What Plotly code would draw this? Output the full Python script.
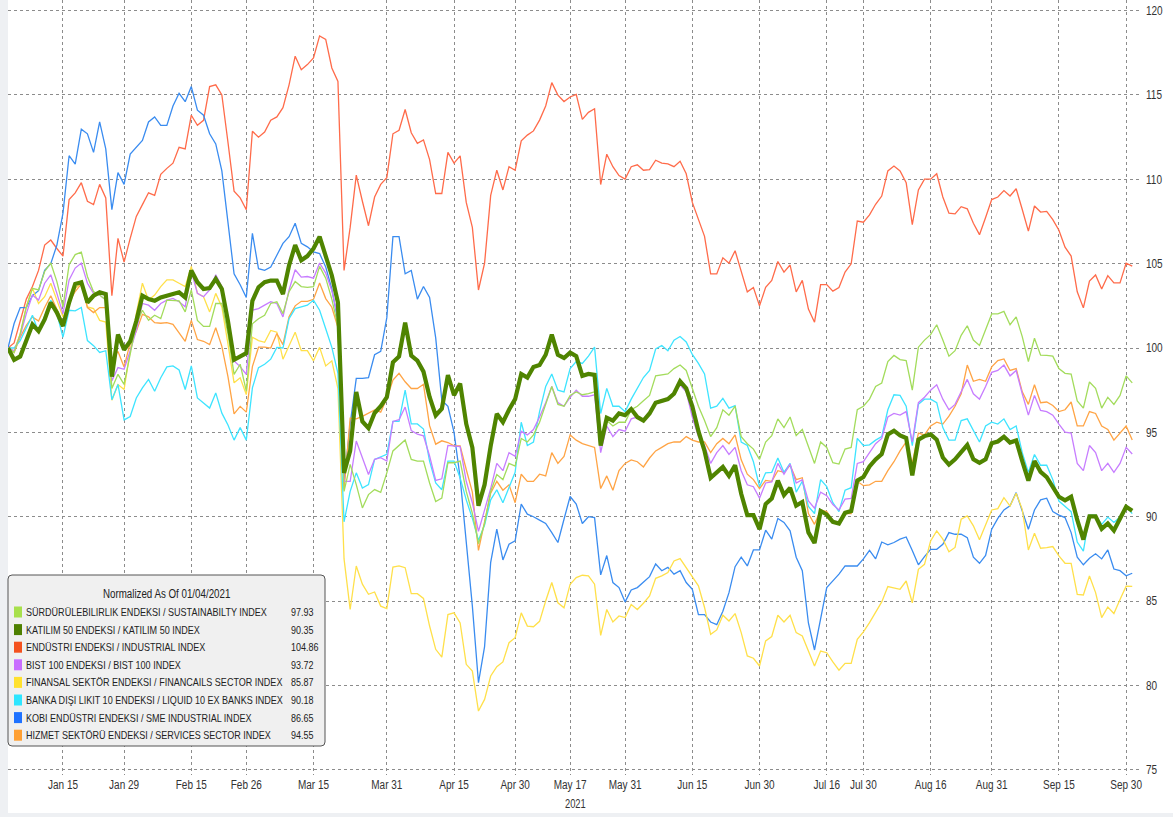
import pandas as pd
import plotly.graph_objects as go

# ---------------- data ----------------
holidays = ["2021-04-23", "2021-05-13", "2021-05-14", "2021-05-19", "2021-07-15",
            "2021-07-20", "2021-07-21", "2021-07-22", "2021-07-23", "2021-08-30"]
dates = [d.strftime("%Y-%m-%d") for d in pd.bdate_range("2021-01-04", "2021-10-01")
         if d.strftime("%Y-%m-%d") not in holidays]

tick_dates = ["2021-01-15", "2021-01-29", "2021-02-15", "2021-02-26", "2021-03-15", "2021-03-31",
              "2021-04-15", "2021-04-30", "2021-05-17", "2021-05-31", "2021-06-15", "2021-06-30",
              "2021-07-16", "2021-07-30", "2021-08-16", "2021-08-31", "2021-09-15", "2021-09-30"]
tick_labels = ["Jan 15", "Jan 29", "Feb 15", "Feb 26", "Mar 15", "Mar 31", "Apr 15", "Apr 30",
               "May 17", "May 31", "Jun 15", "Jun 30", "Jul 16", "Jul 30", "Aug 16", "Aug 31",
               "Sep 15", "Sep 30"]
y_ticks = [75, 80, 85, 90, 95, 100, 105, 110, 115, 120]

surdurulebilirlik = (
    [100.0, 99.74, 100.84, 102.44, 103.54, 103.44, 104.54, 105.04, 103.94, 102.44, 104.94, 105.54, 105.68, 104.24, 103.34, 103.14, 102.84]
    + [97.6, 98.44, 97.84, 99.64, 101.44, 102.24, 101.64, 101.94, 101.74, 102.84, 102.84, 102.8, 102.14]
    + [103.44, 101.64, 101.28, 101.28, 102.64, 102.64, 100.84, 98.44, 99.04, 97.44]
    + [101.44, 101.74, 101.94, 102.64, 102.74, 102.04, 103.34, 103.94, 103.64, 103.6, 103.64, 104.84, 104.14, 102.9, 101.3]
    + [91.5, 93.1, 91.9, 90.52, 91.31, 91.61, 91.45, 92.6]
    + [93.9, 94.2, 94.55, 93.4, 93.3, 93.3, 92.0, 90.9, 91.1, 93.2, 93.2, 93.3, 91.5, 90.2, 88.4, 89.6, 91.5, 92.5]
    + [92.2, 93.16, 93.0, 94.64, 94.43, 94.85, 95.6, 96.66, 97.72, 96.66, 96.55, 97.19, 97.4, 97.23, 97.29, 97.4]
    + [94.22, 95.7, 95.38, 95.6, 95.6, 96.34, 96.55, 96.87, 97.19, 98.35, 98.41, 98.46, 98.78, 98.99, 98.67, 97.61, 96.55, 95.7, 94.75, 95.28, 96.34, 96.02, 96.55, 94.75, 94.33, 94.01, 93.4, 94.43]
    + [94.81, 95.8, 95.28, 95.91, 94.81, 95.17, 94.11, 93.16, 94.43, 94.11, 93.2, 93.12, 94.01, 94.11, 96.34, 96.55, 96.97, 97.72, 97.93, 99.2,
       99.56, 99.31, 99.26, 97.5, 100.05, 100.47, 100.79, 101.38, 100.47, 99.52, 99.84, 100.75, 101.32, 100.47, 100.15, 101.11, 102.02, 102.02, 102.17, 101.38,
       101.85, 100.68, 99.2, 100.58, 99.58, 99.56, 99.52, 98.78, 98.5, 98.46, 96.87, 96.44, 97.99, 97.61, 96.44, 97.08, 96.66, 97.19, 98.35, 97.93]
)

katilim50 = (
    [100.0, 99.3, 99.5, 100.4, 101.4, 101.0, 101.7, 102.7, 102.1, 101.3, 102.7, 103.8, 103.9, 102.7, 103.1, 103.3, 103.2]
    + [98.3, 100.8, 99.9, 100.4, 101.6, 103.1, 102.9, 102.8, 103.0, 103.1, 103.2, 103.3, 103.0]
    + [104.6, 103.9, 103.5, 103.55, 104.1, 103.5, 101.6, 99.3, 99.5, 99.7]
    + [102.8, 103.6, 103.9, 104.0, 104.0, 103.2, 104.9, 106.1, 105.2, 105.45, 105.9, 106.6, 105.45, 104.3, 102.7]
    + [92.6, 93.9, 97.4, 95.65, 95.25, 96.15, 96.55, 97.08]
    + [99.15, 99.5, 101.5, 99.55, 99.25, 98.6, 97.1, 96.0, 96.4, 98.4, 97.2, 97.9, 95.5, 94.1, 90.65, 91.9, 94.2, 96.1]
    + [95.6, 96.34, 96.97, 98.46, 98.25, 98.88, 98.99, 99.6, 100.79, 99.6, 99.41, 99.73, 99.52, 98.35, 98.46, 98.41]
    + [94.22, 95.87, 95.7, 96.12, 96.02, 96.38, 95.91, 95.7, 96.12, 96.76, 96.87, 96.97, 97.29, 98.03, 97.61, 96.55, 95.07, 93.9, 92.31, 92.63, 92.95, 92.42, 93.05, 91.36, 90.09, 90.09, 89.26, 90.75]
    + [91.08, 92.14, 91.29, 91.71, 90.66, 90.87, 89.07, 88.44, 90.34, 90.13, 89.7, 89.6, 90.23, 90.34, 92.14, 92.35, 92.98, 93.4, 93.72, 94.88,
       95.1, 94.82, 94.67, 92.45, 94.57, 94.78, 94.88, 94.57, 93.51, 93.09, 93.4, 93.83, 94.25, 93.4, 93.19, 93.4, 94.36, 94.46, 94.74, 94.4,
       94.52, 93.3, 92.14, 93.3, 92.66, 92.35, 91.71, 91.18, 90.97, 91.18, 89.81, 88.65, 90.02, 90.02, 89.28, 89.6, 89.18, 89.92, 90.59, 90.35]
)

endustri = (
    [100.0, 100.3, 101.6, 102.9, 103.65, 104.6, 106.1, 106.4, 105.9, 105.45, 108.8, 109.2, 109.8, 108.7, 108.5, 109.7, 108.9]
    + [103.1, 106.5, 105.1, 106.5, 107.8, 108.5, 109.2, 109.05, 110.3, 110.65, 110.96, 111.9, 111.8]
    + [113.8, 113.2, 113.5, 115.5, 115.6, 115.0, 112.2, 109.3, 108.9, 108.2]
    + [112.85, 112.5, 112.8, 113.5, 113.7, 114.25, 115.6, 117.3, 116.5, 116.8, 117.2, 118.5, 118.3, 116.6, 115.8]
    + [104.6, 107.15, 110.25, 108.7, 107.25, 108.95, 109.7, 110.1]
    + [112.7, 112.91, 114.14, 112.76, 112.13, 112.34, 111.17, 109.16, 109.16, 111.6, 110.96, 111.39, 108.63, 107.15, 103.44, 105.03, 109.05, 110.54]
    + [109.37, 110.75, 110.54, 112.28, 112.62, 112.87, 113.51, 114.35, 115.73, 114.99, 114.61, 114.88, 115.03, 113.55, 113.97, 114.18]
    + [109.69, 111.49, 110.75, 110.22, 110.01, 110.75, 110.86, 110.54, 110.58, 111.13, 110.96, 110.92, 110.75, 111.07, 110.33, 108.63, 107.57, 106.62, 104.39, 104.39, 105.35, 105.03, 105.77, 104.5, 103.33, 103.59, 102.5, 103.6]
    + [104.01, 105.13, 104.5, 104.92, 103.33, 104.01, 102.31, 101.53, 103.76, 103.76, 103.37, 103.59, 104.5, 104.99, 107.53, 107.46, 107.89, 108.52, 109.01, 110.5,
       110.79, 110.5, 109.8, 107.32, 109.37, 110.01, 110.01, 110.33, 108.95, 107.99, 107.95, 108.38, 108.25, 107.4, 106.72, 107.74, 108.8, 108.95, 109.33, 109.01,
       109.44, 108.21, 106.93, 108.42, 108.06, 108.1, 107.61, 106.98, 105.98, 105.45, 103.33, 102.38, 103.97, 104.33, 103.5, 104.29, 103.86, 103.86, 105.03, 104.86]
)

bist100 = (
    [100.0, 99.84, 100.74, 102.04, 103.14, 102.84, 103.84, 104.34, 103.24, 102.04, 104.04, 104.74, 105.04, 103.84, 103.24, 103.14, 102.84]
    + [98.04, 98.84, 98.74, 99.84, 101.04, 102.64, 102.54, 102.24, 102.64, 102.84, 102.94, 102.74, 102.44]
    + [104.54, 103.24, 103.04, 103.44, 104.34, 103.64, 101.44, 99.24, 98.9, 98.44]
    + [102.24, 102.34, 102.54, 102.74, 102.64, 101.84, 103.44, 104.64, 104.2, 104.24, 104.14, 105.04, 104.44, 103.4, 101.8]
    + [92.1, 92.1, 94.49, 93.5, 92.5, 93.4, 93.5, 93.3]
    + [95.65, 95.75, 96.5, 95.1, 94.9, 94.8, 93.6, 92.15, 92.25, 94.23, 94.18, 94.16, 92.1, 90.83, 89.13, 90.4, 91.67, 93.16]
    + [92.73, 93.8, 93.58, 95.07, 94.85, 95.17, 95.91, 96.76, 97.72, 96.76, 96.55, 97.08, 97.5, 97.14, 97.14, 97.23]
    + [93.8, 95.38, 94.75, 95.17, 95.07, 95.8, 95.91, 95.7, 96.12, 96.76, 96.87, 96.97, 97.4, 97.82, 97.4, 95.91, 94.75, 94.22, 93.16, 93.8, 94.22, 93.69, 94.11, 92.73, 91.89, 91.78, 91.1, 92.0]
    + [92.06, 93.16, 92.52, 93.12, 92.0, 92.2, 90.93, 90.5, 91.46, 91.25, 90.72, 90.4, 91.04, 91.08, 93.16, 93.26, 93.8, 94.33, 94.64, 95.91,
       96.12, 96.02, 96.23, 94.43, 96.76, 97.08, 97.5, 97.82, 96.97, 96.34, 96.66, 97.4, 98.14, 97.29, 96.97, 97.72, 98.56, 98.67, 98.99, 98.35,
       98.67, 97.29, 96.02, 97.19, 96.3, 96.23, 96.02, 95.49, 95.02, 94.96, 93.16, 92.73, 94.22, 93.8, 92.73, 93.16, 92.63, 93.16, 94.11, 93.72]
)

finansal = (
    [100.0, 99.84, 100.84, 102.44, 103.54, 102.64, 103.04, 103.84, 102.84, 101.84, 102.54, 103.54, 103.84, 102.44, 102.34, 101.64, 101.54]
    + [96.9, 97.84, 97.54, 99.84, 102.04, 103.84, 102.84, 103.14, 103.64, 104.04, 104.04, 103.84, 103.64]
    + [104.84, 103.24, 103.04, 102.14, 103.24, 102.44, 100.24, 97.94, 98.24, 97.24]
    + [100.64, 100.44, 100.34, 101.04, 100.94, 99.34, 100.14, 100.94, 99.84, 99.84, 99.24, 100.04, 98.94, 99.24, 97.6]
    + [87.5, 84.5, 87.08, 86.0, 85.4, 85.54, 84.7, 84.55]
    + [87.02, 87.08, 86.98, 85.44, 85.44, 85.16, 83.52, 82.14, 81.68, 84.2, 84.3, 83.7, 81.25, 80.85, 78.48, 79.17, 80.56, 81.11]
    + [81.39, 82.53, 82.83, 84.3, 83.52, 83.48, 83.8, 85.0, 86.1, 84.9, 84.6, 86.0, 86.39, 86.53, 86.49, 86.0]
    + [82.97, 84.5, 83.76, 84.12, 84.02, 84.8, 84.5, 84.87, 85.3, 86.35, 86.49, 86.69, 87.38, 87.52, 86.98, 86.49, 85.9, 84.62, 83.03, 83.29, 84.16, 83.82, 84.26, 83.13, 81.75, 81.61, 81.15, 82.64]
    + [82.9, 84.16, 83.76, 84.16, 83.13, 82.93, 81.98, 81.15, 82.04, 81.94, 81.39, 80.9, 81.31, 81.31, 82.73, 83.17, 83.72, 84.32, 84.95, 85.86,
       85.8, 85.7, 86.19, 84.9, 86.88, 87.18, 88.56, 89.16, 88.67, 87.92, 88.18, 89.85, 90.05, 89.46, 88.63, 89.46, 90.4, 90.48, 91.13, 90.63,
       91.39, 90.44, 88.03, 89.02, 88.13, 88.17, 88.23, 87.68, 87.24, 87.24, 85.4, 85.36, 86.49, 85.5, 84.02, 84.65, 84.26, 85.09, 85.88, 85.87]
)

banka_disi = (
    [100.0, 100.0, 100.44, 101.24, 101.94, 100.94, 101.84, 102.84, 102.04, 100.64, 102.24, 102.2, 102.4, 100.44, 100.14, 99.74, 99.84]
    + [96.94, 97.84, 95.74, 95.94, 97.04, 97.64, 98.14, 97.44, 98.24, 98.88, 98.94, 98.7, 97.54]
    + [98.94, 97.04, 96.74, 96.44, 97.34, 96.14, 95.44, 94.54, 95.28, 94.54]
    + [97.64, 98.84, 99.04, 99.34, 100.04, 100.0, 101.74, 102.34, 102.44, 102.54, 102.84, 102.24, 101.14, 100.04, 98.5]
    + [89.7, 91.5, 92.6, 91.7, 91.9, 93.4, 93.55, 93.7]
    + [95.65, 95.65, 97.5, 95.5, 95.5, 95.2, 93.3, 92.0, 91.6, 93.3, 93.3, 92.3, 91.0, 89.9, 88.6, 89.5, 91.0, 91.6]
    + [90.83, 91.78, 92.63, 95.6, 94.22, 94.43, 96.23, 97.72, 98.46, 97.5, 97.4, 98.78, 99.2, 99.09, 99.52, 100.05]
    + [96.12, 97.61, 96.55, 96.55, 96.23, 96.97, 97.61, 98.25, 98.67, 99.94, 100.15, 99.84, 100.47, 100.68, 100.36, 99.62, 99.09, 98.46, 96.44, 96.55, 97.02, 96.44, 96.59, 94.43, 94.22, 93.26, 91.78, 92.6]
    + [92.63, 93.48, 92.63, 93.16, 91.46, 92.1, 90.61, 90.19, 92.2, 91.78, 90.83, 90.3, 91.57, 91.72, 94.64, 94.22, 94.26, 94.54, 94.75, 96.34,
       97.23, 97.19, 96.55, 94.22, 96.66, 96.97, 96.97, 96.76, 95.28, 94.54, 94.54, 95.7, 95.8, 95.07, 94.43, 95.38, 95.6, 95.49, 95.8, 95.17,
       95.38, 93.8, 92.63, 93.69, 93.05, 93.05, 92.2, 90.93, 90.61, 90.3, 88.5, 87.96, 90.09, 90.09, 89.55, 89.98, 89.66, 89.98, 90.61, 90.18]
)

kobi = (
    [100.0, 101.45, 102.4, 102.4, 103.1, 103.4, 104.6, 105.0, 106.1, 108.0, 111.4, 110.9, 112.97, 112.7, 111.6, 113.4, 111.8]
    + [108.2, 110.4, 109.7, 111.5, 111.9, 112.3, 113.4, 113.7, 113.2, 113.2, 114.35, 115.1, 114.6]
    + [115.5, 114.1, 113.8, 112.7, 112.1, 110.5, 107.6, 104.4, 103.75, 103.0]
    + [106.8, 104.7, 104.6, 104.8, 105.5, 106.2, 106.6, 107.4, 106.2, 106.0, 105.7, 105.6, 104.8, 103.5, 101.6]
    + [92.0, 95.5, 98.2, 98.2, 98.25, 99.6, 99.8, 101.8]
    + [106.6, 106.6, 104.4, 104.6, 102.9, 103.65, 103.0, 100.6, 96.9, 96.55, 95.0, 92.3, 88.27, 84.7, 80.16, 82.3, 87.3, 89.26]
    + [87.44, 88.37, 88.57, 90.75, 90.15, 90.0, 89.8, 89.6, 89.06, 88.47, 89.85, 91.2, 90.75, 89.6, 90.0, 89.95]
    + [86.55, 87.7, 86.1, 85.8, 84.95, 85.66, 85.8, 86.1, 86.45, 87.2, 86.8, 87.0, 86.6, 86.8, 86.1, 85.7, 84.2, 84.2, 83.76, 83.6, 84.4, 85.5, 87.04, 87.6, 87.08, 88.03, 88.03, 89.2]
    + [88.67, 89.9, 89.66, 89.16, 87.6, 86.8, 83.7, 82.1, 83.9, 85.8, 86.2, 86.6, 87.08, 87.08, 87.08, 87.5, 88.0, 87.5, 88.5, 88.33,
       88.47, 88.67, 88.8, 88.0, 87.15, 87.64, 88.07, 88.07, 88.37, 89.06, 88.96, 88.96, 88.76, 87.6, 87.24, 87.7, 89.26, 89.9, 90.4, 90.65,
       91.43, 90.34, 89.26, 90.4, 91.0, 91.1, 90.3, 90.1, 89.95, 89.06, 87.6, 87.15, 87.54, 87.8, 87.5, 88.03, 86.9, 86.8, 86.5, 86.65]
)

hizmet = (
    [100.0, 99.74, 100.64, 101.34, 101.84, 101.6, 102.4, 103.1, 102.3, 101.5, 102.7, 103.35, 103.8, 102.4, 102.1, 102.4, 102.4]
    + [99.3, 99.8, 98.88, 100.3, 101.0, 102.0, 101.85, 101.5, 101.47, 101.5, 101.4, 100.9, 100.4]
    + [101.64, 100.5, 100.4, 100.2, 101.2, 100.1, 98.3, 96.1, 96.54, 96.2]
    + [98.9, 100.05, 100.05, 100.0, 100.86, 100.2, 101.85, 102.5, 102.77, 102.76, 102.89, 103.85, 102.93, 102.42, 101.22]
    + [91.6, 95.84, 95.8, 95.95, 96.15, 96.33, 96.2, 97.0]
    + [98.1, 98.5, 98.0, 97.6, 97.6, 97.85, 95.4, 94.3, 94.5, 94.4, 94.2, 94.2, 92.8, 91.46, 88.0, 89.8, 91.4, 92.1]
    + [91.57, 91.89, 90.83, 92.52, 92.1, 92.1, 92.52, 92.42, 93.8, 93.16, 93.58, 94.85, 94.54, 94.33, 94.22, 94.11]
    + [91.67, 92.42, 91.57, 92.73, 93.16, 93.37, 93.26, 92.95, 93.48, 93.9, 94.11, 94.33, 94.43, 94.43, 94.75, 94.54, 94.43, 94.43, 93.8, 94.33, 94.64, 94.33, 94.85, 93.37, 92.52, 92.2, 91.67, 92.15]
    + [92.1, 92.73, 92.63, 93.05, 92.2, 92.31, 90.19, 89.55, 90.4, 90.3, 89.77, 89.55, 90.19, 90.19, 92.1, 91.84, 91.89, 92.1, 92.1, 92.73,
       93.26, 93.9, 94.43, 93.16, 94.96, 94.85, 95.38, 95.6, 95.49, 95.96, 96.55, 97.29, 98.99, 98.03, 98.14, 98.03, 98.88, 99.26, 99.35, 98.67,
       98.78, 97.4, 96.66, 97.82, 96.76, 96.8, 96.59, 96.23, 96.34, 96.8, 95.38, 95.38, 96.23, 96.12, 95.38, 95.17, 94.54, 94.96, 95.38, 94.55]
)

series_names = [
    "SÜRDÜRÜLEBILIRLIK ENDEKSI / SUSTAINABILTY INDEX",
    "KATILIM 50 ENDEKSI / KATILIM 50 INDEX",
    "ENDÜSTRI ENDEKSI / INDUSTRIAL INDEX",
    "BIST 100 ENDEKSI / BIST 100 INDEX",
    "FINANSAL SEKTÖR ENDEKSI / FINANCAILS SECTOR INDEX",
    "BANKA DIŞI LIKIT 10 ENDEKSI / LIQUID 10 EX BANKS INDEX",
    "KOBI ENDÜSTRI ENDEKSI / SME INDUSTRIAL INDEX",
    "HIZMET SEKTÖRÜ ENDEKSI / SERVICES SECTOR INDEX",
]
series_values = [surdurulebilirlik, katilim50, endustri, bist100, finansal, banka_disi, kobi, hizmet]
line_colors = ["#a3dc5c", "#4f8400", "#ff6b4a", "#c77dff", "#ffe04a", "#3ee4ff", "#3a8cf0", "#ffa445"]
swatch_colors = ["#a8e04c", "#4e8000", "#f4511e", "#c86dff", "#ffe12e", "#2ee6ff", "#1f72ff", "#ffa033"]
line_widths = [1.3, 4.2, 1.3, 1.3, 1.3, 1.3, 1.3, 1.3]
draw_order = [2, 6, 4, 7, 5, 3, 0, 1]

lens = [len(v) for v in series_values]
assert all(n == len(dates) for n in lens), (len(dates), lens)

# ---------------- figure ----------------
W, H = 1173, 817
PL, PR, PT, PB = 8, 1140, 0, 775
FONT = "Liberation Sans, Arial, sans-serif"


def px2x(px):
    return (px - PL) / (PR - PL)


def px2y(py):
    return (PB - py) / (PB - PT)


fig = go.Figure()
for k in draw_order:
    fig.add_trace(go.Scatter(
        x=dates, y=series_values[k], mode="lines", name=series_names[k],
        line=dict(color=line_colors[k], width=line_widths[k]),
        hoverinfo="skip", showlegend=False,
    ))

shapes = []
annotations = []
# light grey strips at left and bottom of page
shapes.append(dict(type="rect", xref="paper", yref="paper", x0=px2x(0), x1=px2x(PL), y0=px2y(H), y1=px2y(0),
                   fillcolor="#eef0f3", line=dict(width=0), layer="below"))
shapes.append(dict(type="rect", xref="paper", yref="paper", x0=px2x(0), x1=px2x(W), y0=px2y(H), y1=px2y(813),
                   fillcolor="#eef0f3", line=dict(width=0), layer="below"))

# legend box
bx0, bx1, by0, by1 = 8, 325, 575, 746
r = 4
path = (f"M {px2x(bx0 + r)},{px2y(by0)} L {px2x(bx1 - r)},{px2y(by0)} "
        f"Q {px2x(bx1)},{px2y(by0)} {px2x(bx1)},{px2y(by0 + r)} "
        f"L {px2x(bx1)},{px2y(by1 - r)} Q {px2x(bx1)},{px2y(by1)} {px2x(bx1 - r)},{px2y(by1)} "
        f"L {px2x(bx0 + r)},{px2y(by1)} Q {px2x(bx0)},{px2y(by1)} {px2x(bx0)},{px2y(by1 - r)} "
        f"L {px2x(bx0)},{px2y(by0 + r)} Q {px2x(bx0)},{px2y(by0)} {px2x(bx0 + r)},{px2y(by0)} Z")
shapes.append(dict(type="path", xref="paper", yref="paper", path=path,
                   fillcolor="#f0f0f0", line=dict(color="#555555", width=1)))

annotations.append(dict(xref="paper", yref="paper", x=px2x(166), y=px2y(594), text="Normalized As Of 01/04/2021",
                        showarrow=False, xanchor="center", yanchor="middle", align="center",
                        font=dict(family=FONT, size=12.5, color="#222222")))
row0, step = 612, 17.6
for k in range(len(series_names)):
    yc = row0 + step * k
    shapes.append(dict(type="rect", xref="paper", yref="paper", x0=px2x(14), x1=px2x(22),
                       y0=px2y(yc + 5.5), y1=px2y(yc - 5.5), fillcolor=swatch_colors[k], line=dict(width=0)))
    annotations.append(dict(xref="paper", yref="paper", x=px2x(24), y=px2y(yc), text=series_names[k],
                            showarrow=False, xanchor="left", yanchor="middle", align="left",
                            font=dict(family=FONT, size=10.5, color="#222222")))
    annotations.append(dict(xref="paper", yref="paper", x=px2x(289), y=px2y(yc), text=f"{series_values[k][-1]:.2f}",
                            showarrow=False, xanchor="left", yanchor="middle", align="left",
                            font=dict(family=FONT, size=11.5, color="#222222")))

annotations.append(dict(xref="x", yref="paper", x="2021-05-17", y=px2y(804), text="2021", xshift=5,
                        showarrow=False, xanchor="center", yanchor="middle", align="center",
                        font=dict(family=FONT, size=12, color="#333333")))

fig.update_layout(
    width=W, height=H,
    margin=dict(l=PL, r=W - PR, t=PT, b=H - PB, pad=0),
    paper_bgcolor="white", plot_bgcolor="white",
    font=dict(family=FONT, size=12, color="#333333"),
    showlegend=False,
    shapes=shapes, annotations=annotations,
    xaxis=dict(type="category", categoryorder="array", categoryarray=dates,
               range=[0, 185.27], tickmode="array", tickvals=tick_dates, ticktext=tick_labels,
               showgrid=True, gridcolor="#8c8c8c", griddash="dot", gridwidth=1,
               showline=False, zeroline=False, ticks="", tickfont=dict(family=FONT, size=12.5, color="#333333")),
    yaxis=dict(side="right", range=[74.69, 120.63], tickmode="array", tickvals=y_ticks,
               showgrid=True, gridcolor="#8c8c8c", griddash="dot", gridwidth=1, ticklabelstandoff=5,
               showline=False, zeroline=False, ticks="", tickfont=dict(family=FONT, size=12.5, color="#333333")),
)

# page body margin removed; text condensed horizontally to mimic the narrow source font
post_js = """
document.body.style.margin = '0px';
var gd = document.getElementById('{plot_id}');
if (gd) {
  var ts = gd.querySelectorAll('svg text');
  for (var i = 0; i < ts.length; i++) {
    var t = ts[i];
    if (t.getAttribute('data-cond')) continue;
    var L = t.getComputedTextLength();
    if (!(L > 0)) continue;
    var ann = t.closest('.annotation');
    var fs = parseFloat(t.style.fontSize || '12');
    var f = 0.8;
    if (ann !== null) { f = (fs < 11) ? 0.86 : 0.78; }
    t.setAttribute('textLength', (L * f).toFixed(2));
    t.setAttribute('lengthAdjust', 'spacingAndGlyphs');
    t.setAttribute('data-cond', '1');
  }
}
"""
fig.write_html("out.html", post_script=post_js, config={"displayModeBar": False})
